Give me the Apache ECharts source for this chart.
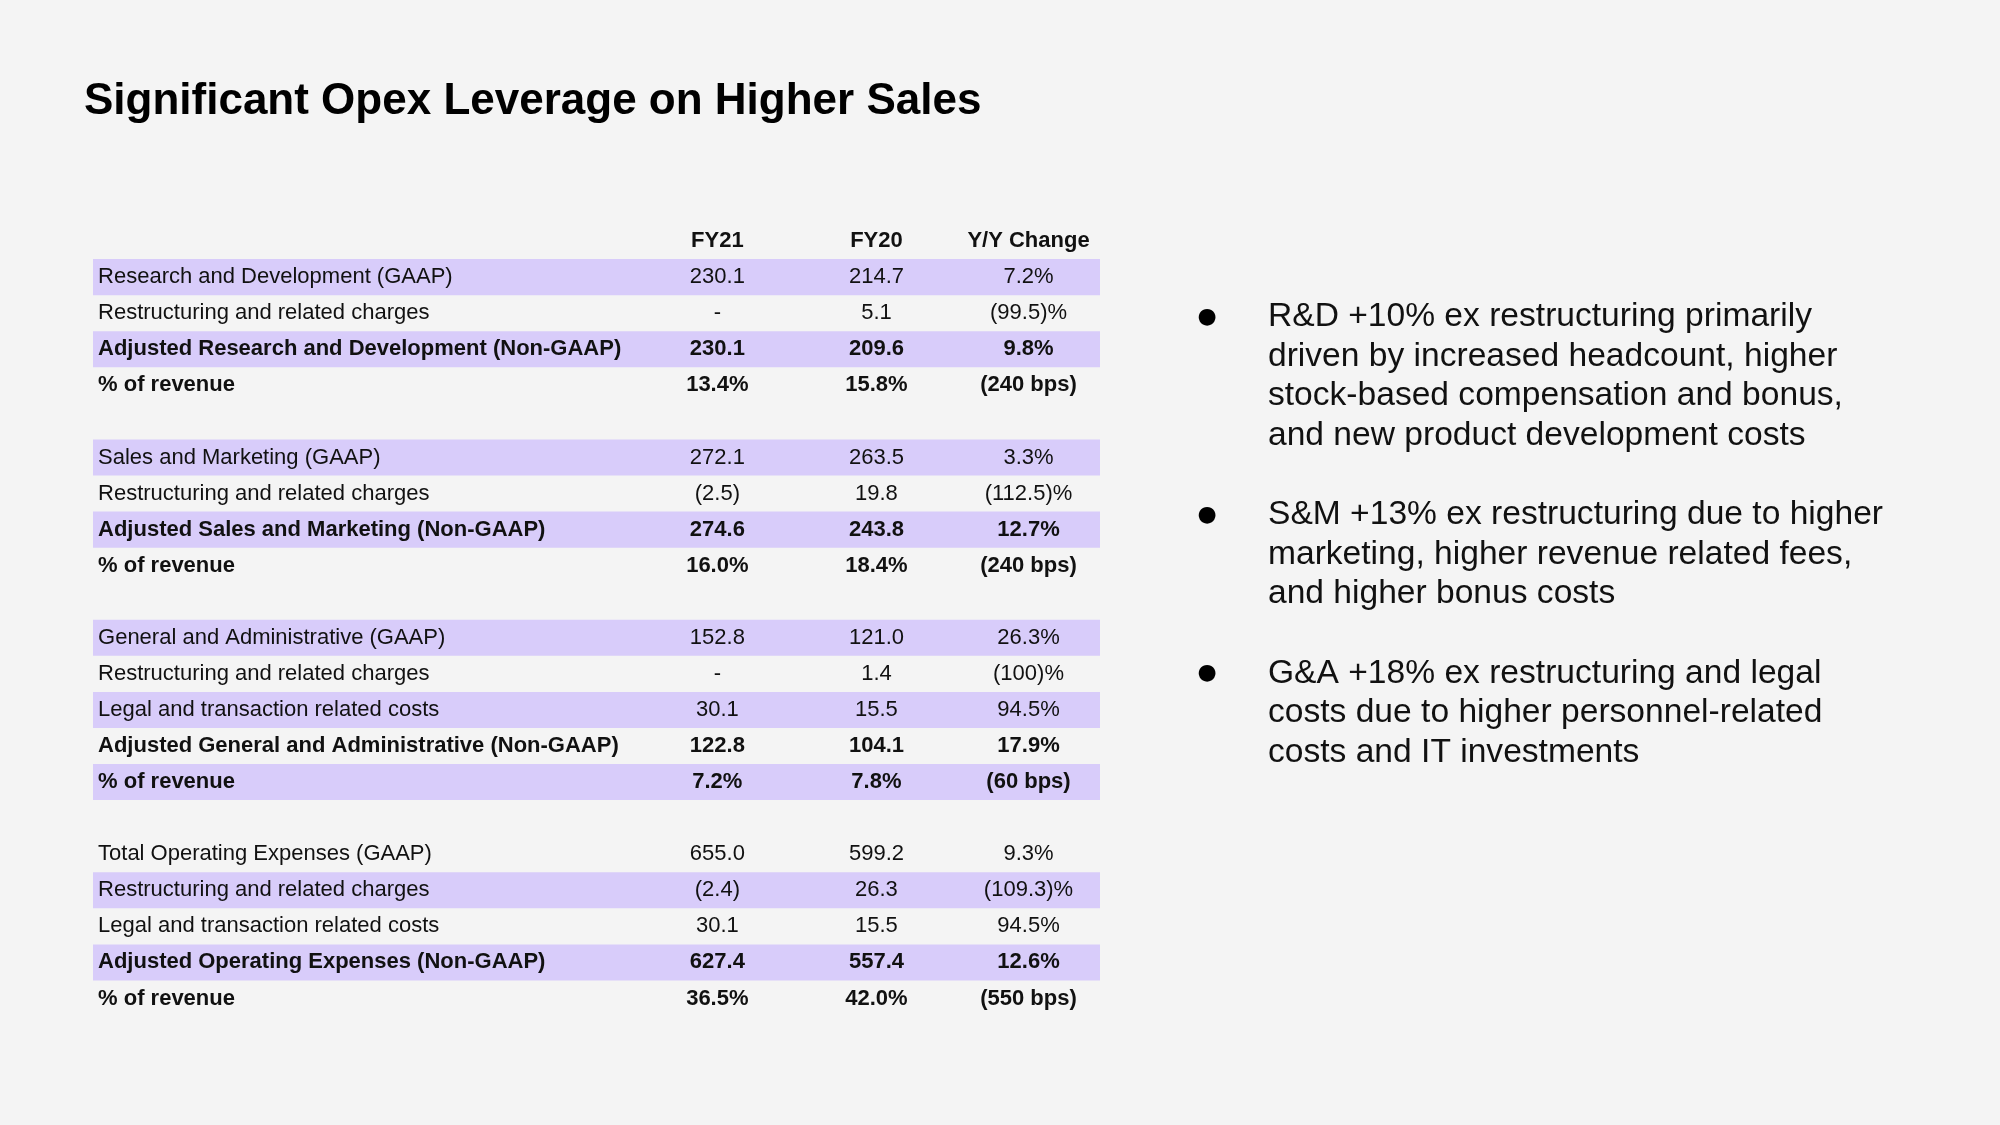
<!DOCTYPE html>
<html>
<head>
<meta charset="utf-8">
<script src="https://cdn.jsdelivr.net/npm/echarts@6/dist/echarts.min.js"></script>
<style>
  html, body { margin: 0; padding: 0; background: #f4f4f4; }
  #chart { width: 2000px; height: 1125px; }
</style>
</head>
<body>
<div id="chart"></div>
<script>
// ---------- data ----------
const titleText = 'Significant Opex Leverage on Higher Sales';
const columnHeaders = ['FY21', 'FY20', 'Y/Y Change'];
const rowLabels = [
  'Research and Development (GAAP)',
  'Restructuring and related charges',
  'Adjusted Research and Development (Non-GAAP)',
  '% of revenue',
  '',
  'Sales and Marketing (GAAP)',
  'Restructuring and related charges',
  'Adjusted Sales and Marketing (Non-GAAP)',
  '% of revenue',
  '',
  'General and Administrative (GAAP)',
  'Restructuring and related charges',
  'Legal and transaction related costs',
  'Adjusted General and Administrative (Non-GAAP)',
  '% of revenue',
  '',
  'Total Operating Expenses (GAAP)',
  'Restructuring and related charges',
  'Legal and transaction related costs',
  'Adjusted Operating Expenses (Non-GAAP)',
  '% of revenue'
];
const fy21Values = ['230.1', '-', '230.1', '13.4%', '',
  '272.1', '(2.5)', '274.6', '16.0%', '',
  '152.8', '-', '30.1', '122.8', '7.2%', '',
  '655.0', '(2.4)', '30.1', '627.4', '36.5%'];
const fy20Values = ['214.7', '5.1', '209.6', '15.8%', '',
  '263.5', '19.8', '243.8', '18.4%', '',
  '121.0', '1.4', '15.5', '104.1', '7.8%', '',
  '599.2', '26.3', '15.5', '557.4', '42.0%'];
const yoyValues = ['7.2%', '(99.5)%', '9.8%', '(240 bps)', '',
  '3.3%', '(112.5)%', '12.7%', '(240 bps)', '',
  '26.3%', '(100)%', '94.5%', '17.9%', '(60 bps)', '',
  '9.3%', '(109.3)%', '94.5%', '12.6%', '(550 bps)'];
const boldRows = [2, 3, 7, 8, 13, 14, 19, 20];
const shadedRows = [0, 2, 5, 7, 10, 12, 14, 17, 19];
const bullets = [
  ['R&D +10% ex restructuring primarily',
   'driven by increased headcount, higher',
   'stock-based compensation and bonus,',
   'and new product development costs'],
  ['S&M +13% ex restructuring due to higher',
   'marketing, higher revenue related fees,',
   'and higher bonus costs'],
  ['G&A +18% ex restructuring and legal',
   'costs due to higher personnel-related',
   'costs and IT investments']
];

// ---------- layout ----------
const FONT = '"Liberation Sans", Arial, Helvetica, sans-serif';
const INK = '#111111';
const SHADE = '#d8ccfa';
const colX = { label: 0.5, c0: 62.0, c1: 77.8, c2: 92.9 };   // percent of table width
const slotCount = rowLabels.length + 1;                      // header + rows
const slotH = 36.07;
const gridTop = 223;

const slots = Array.from({ length: slotCount }, (_, i) => 's' + i);
const shadeData = slots.map((s, i) => (i > 0 && shadedRows.includes(i - 1)) ? 100 : '-');

const cellData = [];
columnHeaders.forEach((h, j) => cellData.push({ value: [j, 0], text: h, kind: 'num', bold: true }));
rowLabels.forEach((lab, r) => {
  const bold = boldRows.includes(r);
  const cols = [fy21Values[r], fy20Values[r], yoyValues[r]];
  if (lab) cellData.push({ value: [-1, r + 1], text: lab, kind: 'label', bold });
  cols.forEach((v, j) => { if (v) cellData.push({ value: [j, r + 1], text: v, kind: 'num', bold }); });
});
const colPositions = [colX.c0, colX.c1, colX.c2];

// graphic: title + bullets
const graphics = [{
  type: 'text', x: 84, y: 102, z: 10,
  style: { text: titleText, font: 'bold 44px ' + FONT, fill: '#000', textVerticalAlign: 'middle' }
}];
let k = 0;
bullets.forEach((lines) => {
  graphics.push({
    type: 'text', x: 1207, y: 317 + 39.6 * k, z: 10,
    style: { text: '\u25CF', font: '22px "DejaVu Sans"', fill: '#000', textAlign: 'center', textVerticalAlign: 'middle' }
  });
  lines.forEach((ln) => {
    graphics.push({
      type: 'text', x: 1268, y: 317 + 39.6 * k, z: 10,
      style: { text: ln, font: '33.6px ' + FONT, fill: INK, textVerticalAlign: 'middle' }
    });
    k++;
  });
  k++;
});

const chart = echarts.init(document.getElementById('chart'), null, { renderer: 'canvas' });
chart.setOption({
  backgroundColor: '#f4f4f4',
  animation: false,
  grid: { left: 93, width: 1007, top: gridTop, height: slotH * slotCount },
  xAxis: { type: 'value', min: 0, max: 100, show: false },
  yAxis: { type: 'category', data: slots, inverse: true, show: false },
  graphic: graphics,
  series: [
    {
      type: 'bar',
      z: 1,
      data: shadeData,
      barCategoryGap: '0%',
      itemStyle: { color: SHADE },
      silent: true
    },
    {
      type: 'custom',
      z: 5,
      data: cellData,
      encode: { x: 0, y: 1 },
      renderItem: function (params, api) {
        const d = cellData[params.dataIndex];
        const colIdx = api.value(0);
        const xv = colIdx < 0 ? colX.label : colPositions[colIdx];
        const p = api.coord([xv, api.value(1)]);
        return {
          type: 'text',
          x: p[0], y: p[1],
          style: {
            text: d.text,
            font: (d.bold ? 'bold ' : '') + '22px ' + FONT,
            fill: INK,
            textAlign: d.kind === 'label' ? 'left' : 'center',
            textVerticalAlign: 'middle'
          }
        };
      }
    }
  ]
});
</script>
</body>
</html>
